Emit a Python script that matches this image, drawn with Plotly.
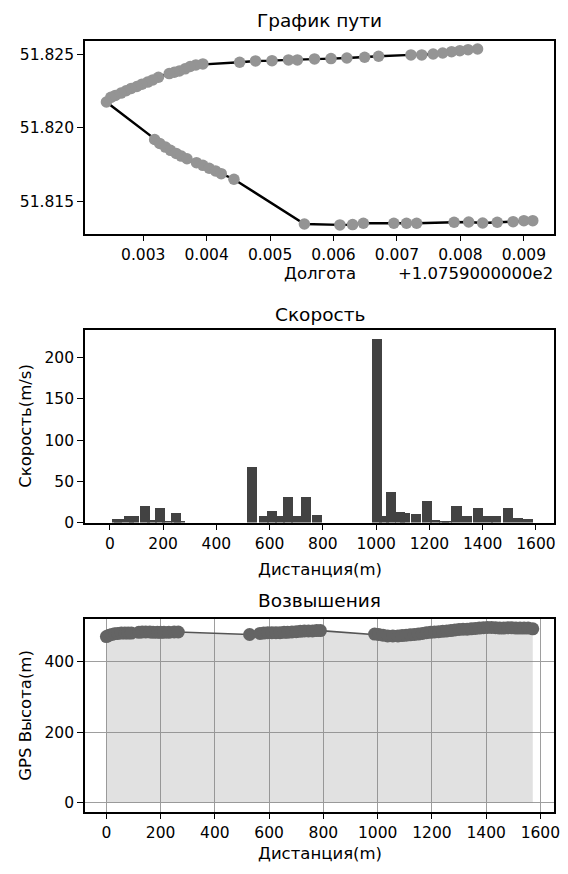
import plotly.graph_objects as go

# ---------------- data ----------------
LON_OFFSET = 107.59
lon = [107.59827, 107.59812, 107.59799, 107.59786, 107.59772, 107.59757, 107.59739, 107.59722,
       107.59671, 107.59649, 107.59621, 107.59596, 107.59570, 107.59543, 107.59529, 107.59503,
       107.59477, 107.59452, 107.59394, 107.59383, 107.59374, 107.59366, 107.59357, 107.59349,
       107.59341, 107.59324, 107.59315, 107.59307, 107.59298, 107.59290, 107.59281, 107.59273,
       107.59265, 107.59256, 107.59249, 107.59242,
       107.59318, 107.59326, 107.59335, 107.59343, 107.59352, 107.59360, 107.59369, 107.59384,
       107.59394, 107.59404, 107.59414, 107.59423, 107.59443, 107.59554, 107.59610, 107.59630,
       107.59647, 107.59695, 107.59715, 107.59731, 107.59790, 107.59813, 107.59835, 107.59858,
       107.59883, 107.59900, 107.59914]
lat = [51.82537, 51.82533, 51.82526, 51.82519, 51.82510, 51.82503, 51.82497, 51.82497,
       51.82488, 51.82481, 51.82476, 51.82472, 51.82470, 51.82463, 51.82463, 51.82458,
       51.82456, 51.82447, 51.82436, 51.82429, 51.82418, 51.82402, 51.82388, 51.82379,
       51.82370, 51.82345, 51.82327, 51.82312, 51.82298, 51.82282, 51.82269, 51.82253,
       51.82237, 51.82221, 51.82208, 51.82176,
       51.81921, 51.81894, 51.81869, 51.81847, 51.81826, 51.81808, 51.81790, 51.81763,
       51.81745, 51.81725, 51.81707, 51.81688, 51.81650, 51.81345, 51.81339, 51.81341,
       51.81350, 51.81350, 51.81350, 51.81350, 51.81357, 51.81359, 51.81352, 51.81357,
       51.81361, 51.81368, 51.81368]
lon_ticks = [0.003, 0.004, 0.005, 0.006, 0.007, 0.008, 0.009]
lat_ticks = [51.815, 51.820, 51.825]

speed_dist = [0, 28, 35, 72, 91, 132, 160, 188, 215, 250, 262,
              535, 580, 610, 640, 668, 700, 738, 779,
              1004, 1030, 1056, 1090, 1110, 1150, 1190, 1222, 1255, 1265,
              1302, 1340, 1383, 1420, 1450, 1494, 1532, 1570]
speed = [0, 5, 5, 8, 8, 21, 4, 18, 3, 12, 1.5,
         68, 8, 15, 9, 32, 9, 31, 10,
         223, 8, 38, 13, 12, 11, 27, 4, 2, 2,
         21, 9, 18, 9, 8, 18, 6, 5]
speed_yticks = [0, 50, 100, 150, 200]
dist_ticks = [0, 200, 400, 600, 800, 1000, 1200, 1400, 1600]

elev_dist = [0, 10, 20, 30, 42, 55, 68, 80, 92, 120, 132, 145, 160, 172, 188, 200, 212, 230, 250, 265,
             528, 566, 580, 595, 610, 625, 640, 655, 668, 684, 700, 715, 730, 745, 760, 775, 789,
             989, 1004, 1020, 1037, 1056, 1075, 1090, 1105, 1120, 1135, 1150, 1165, 1180, 1195,
             1210, 1225, 1240, 1255, 1270, 1285, 1300, 1315, 1330, 1345, 1360, 1375, 1390, 1405,
             1420, 1435, 1450, 1465, 1480, 1495, 1510, 1525, 1540, 1555, 1572]
elev = [470, 474, 476, 478, 479, 480, 480, 480, 480, 482, 483, 483, 483, 482, 482, 482, 482, 482, 483, 483,
        476, 479, 480, 481, 481, 481, 481, 482, 482, 483, 484, 485, 486, 486, 486, 487, 487,
        477, 476, 474, 472, 472, 472, 473, 474, 475, 476, 477, 479, 481, 482,
        483, 484, 485, 486, 487, 489, 490, 491, 491, 492, 493, 494, 495, 496,
        496, 495, 494, 494, 495, 495, 494, 494, 494, 494, 492]
elev_yticks = [0, 200, 400]

# ---------------- layout helpers ----------------
W, H = 568, 874
FONT = "DejaVu Sans"
TICK = 15.5
LABEL = 16.5
TITLE = 18.5


def fx(px):
    return px / W


def fy(py):
    return 1 - py / H


X0, X1 = 86, 560
P1 = (41.7, 236)
P2 = (333, 528)
P3 = (625, 820)

fig = go.Figure()

x_path = [v - LON_OFFSET for v in lon]
fig.add_trace(go.Scatter(x=x_path, y=lat, mode="lines",
                         line=dict(color="black", width=2.4),
                         xaxis="x", yaxis="y", hoverinfo="skip"))
fig.add_trace(go.Scatter(x=x_path, y=lat, mode="markers",
                         marker=dict(color="rgb(148,148,148)", size=11.5, line=dict(width=0)),
                         xaxis="x", yaxis="y"))

fig.add_trace(go.Bar(x=speed_dist, y=speed, width=38,
                     marker=dict(color="rgb(66,66,66)", line=dict(width=0)),
                     xaxis="x2", yaxis="y2"))

fig.add_trace(go.Scatter(x=elev_dist, y=elev, mode="lines", fill="tozeroy",
                         fillcolor="rgba(128,128,128,0.24)", line=dict(width=0, color="rgba(0,0,0,0)"),
                         xaxis="x3", yaxis="y3", hoverinfo="skip"))
fig.add_trace(go.Scatter(x=elev_dist, y=elev, mode="lines+markers",
                         line=dict(color="rgb(85,85,85)", width=1.6),
                         marker=dict(color="rgb(100,100,100)", size=13, line=dict(width=0)),
                         xaxis="x3", yaxis="y3"))

common = dict(showline=True, linecolor="black", linewidth=1.8, mirror=True,
              ticks="outside", ticklen=6, tickwidth=1.4, tickcolor="black",
              tickfont=dict(family=FONT, size=TICK, color="black"),
              zeroline=False, showgrid=False, fixedrange=True)
GRID = "rgb(158,158,158)"

fig.update_layout(
    width=W, height=H,
    margin=dict(l=0, r=0, t=0, b=0),
    paper_bgcolor="white", plot_bgcolor="white",
    showlegend=False,
    bargap=0,
    xaxis=dict(common, domain=[fx(X0), fx(X1)], anchor="y",
               range=[0.002084, 0.009476],
               tickvals=lon_ticks, ticktext=[f"{t:.3f}" for t in lon_ticks]),
    yaxis=dict(common, domain=[fy(P1[1]), fy(P1[0])], anchor="x",
               range=[51.8128, 51.8259],
               tickvals=lat_ticks, ticktext=[f"{t:.3f}" for t in lat_ticks]),
    xaxis2=dict(common, domain=[fx(X0), fx(X1)], anchor="y2",
                range=[-93, 1668], tickvals=dist_ticks),
    yaxis2=dict(common, domain=[fy(P2[1]), fy(P2[0])], anchor="x2",
                range=[0, 234], tickvals=speed_yticks),
    xaxis3=dict(common, domain=[fx(X0), fx(X1)], anchor="y3",
                range=[-78.6, 1650.6], tickvals=dist_ticks,
                showgrid=True, gridcolor=GRID, gridwidth=1.3),
    yaxis3=dict(common, domain=[fy(P3[1]), fy(P3[0])], anchor="x3",
                range=[-24.8, 521], tickvals=elev_yticks,
                showgrid=True, gridcolor=GRID, gridwidth=1.3),
)

cx = fx((X0 + X1) / 2)


def ann(text, x, y, size, xanchor="center", angle=0):
    fig.add_annotation(text=text, x=x, y=y, xref="paper", yref="paper",
                       xanchor=xanchor, yanchor="middle", showarrow=False,
                       textangle=angle,
                       font=dict(family=FONT, size=size, color="black"))


ann("График пути", cx, fy(21), TITLE)
ann("Долгота", cx, fy(276), LABEL)
ann("+1.0759000000e2", fx(X1 + 1), fy(276), LABEL, xanchor="right")
ann("Скорость", cx, fy(318), TITLE)
ann("Скорость(m/s)", fx(25), fy((P2[0] + P2[1]) / 2), LABEL, angle=-90)
ann("Дистанция(m)", cx, fy(575), LABEL)
ann("Возвышения", cx, fy(607), TITLE)
ann("GPS Высота(m)", fx(25), fy((P3[0] + P3[1]) / 2), LABEL, angle=-90)
ann("Дистанция(m)", cx, fy(862), LABEL)

fig.write_html("out.html")
